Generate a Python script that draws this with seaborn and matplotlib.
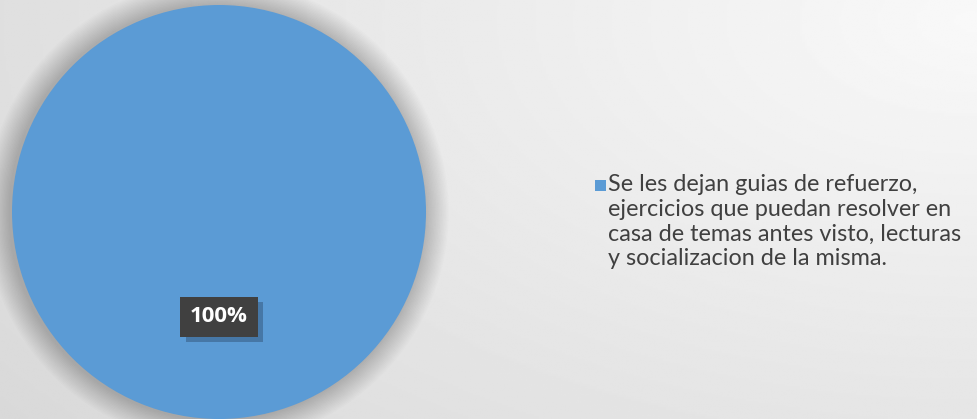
import matplotlib.pyplot as plt
import numpy as np
import seaborn as sns
from matplotlib.patches import Circle, Rectangle

# data
categories = ["Se les dejan guias de refuerzo,\nejercicios que puedan resolver en\ncasa de temas antes visto, lecturas\ny socializacion de la misma."]
values = [100]
labels = ["100%"]

sns.set_theme(style="white")
plt.rcParams['font.family'] = ['Lato', 'DejaVu Sans']
colors = ["#5B9BD5"]

fig = plt.figure(figsize=(9.77, 4.19), dpi=100)

# background gradient
bg = fig.add_axes([0, 0, 1, 1])
yy, xx = np.mgrid[0:1:200j, 0:1:400j]
d = np.sqrt(((xx - 1.0) * 1.0) ** 2 + ((yy - 0.95) * 0.8) ** 2)
shade = 0.975 - 0.10 * d
bg.imshow(shade, cmap="gray", vmin=0, vmax=1, extent=[0, 1, 0, 1], aspect="auto", origin="lower")
bg.set_xlim(0, 1)
bg.set_ylim(0, 1)
bg.axis("off")

ax = fig.add_axes([12 / 977 - 0.06 * 414 / 977, -0.06 * 414 / 419, 414 / 977 * 1.12, 414 / 419 * 1.12])
ax.set_aspect("equal")
ax.axis("off")

# soft shadow
for i in range(18):
    ax.add_patch(Circle((-0.01, 0.0), 1.0 + 0.12 * (1 - i / 18), color="black", alpha=0.011, lw=0, zorder=0))

wedges, _ = ax.pie(values, colors=colors, radius=1.0, startangle=90, counterclock=False,
                   wedgeprops=dict(linewidth=0))
ax.set_xlim(-1.12, 1.12)
ax.set_ylim(-1.12, 1.12)

# data label with drop shadow
ax.add_patch(Rectangle((-0.186 + 0.025, -0.507 - 0.097 - 0.025), 0.372, 0.194, fc="#1f3550", ec="none",
                       alpha=0.35, zorder=4))
ax.add_patch(Rectangle((-0.186, -0.507 - 0.097), 0.372, 0.194, fc="#404040", ec="none", zorder=5))
ax.text(0.0, -0.507, labels[0], ha="center", va="center", color="white", fontsize=16, fontweight="bold",
        family=["Open Sans", "DejaVu Sans"], zorder=6)

# legend
fig.patches.append(Rectangle((595 / 977, 1 - 191 / 419), 11 / 977, 11 / 419, transform=fig.transFigure,
                             fc=colors[0], ec="none"))
fig.text(608 / 977, 1 - 174 / 419, categories[0], ha="left", va="top", fontsize=16.8, color="#404040",
         linespacing=1.22)

fig.savefig("out.png", dpi=100)
